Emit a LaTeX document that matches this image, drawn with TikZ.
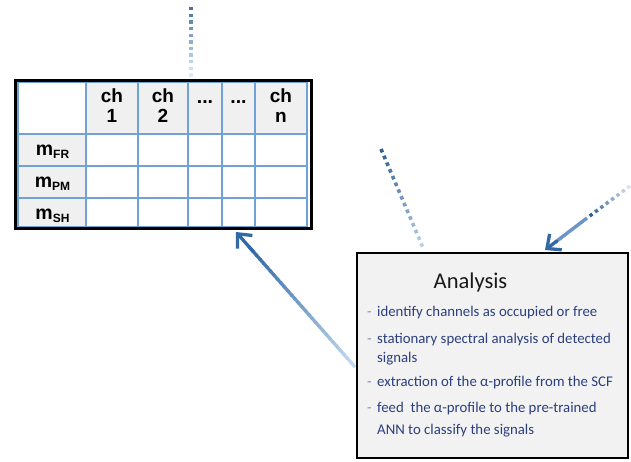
\documentclass[tikz,border=0pt]{standalone}
\usepackage{fontspec}
\setmainfont{Carlito}
\newfontfamily\tabfont{Liberation Sans}
\usetikzlibrary{arrows.meta,calc}
\definecolor{gridblue}{HTML}{6FA3D8}
\definecolor{cellgray}{HTML}{F0F0F0}
\definecolor{boxgray}{HTML}{F2F2F2}
\definecolor{txtblue}{HTML}{2B3F7F}
\definecolor{dashblue}{HTML}{7D8DB5}
\definecolor{arrdark}{HTML}{3169A6}
\definecolor{arrlight}{HTML}{C2DAF0}
\definecolor{dotdark}{HTML}{2F5F95}
\definecolor{dotlight}{HTML}{D0E2F4}
\newcommand\mydotline[6]{%
  \foreach \k in {0,...,#3}{%
    \pgfmathsetmacro\ta{\k/(#3+1)}%
    \pgfmathsetmacro\tb{(\k+0.5)/(#3+1)}%
    \pgfmathtruncatemacro\p{100*\k/#3}%
    \draw[line width=#6, color=#5!\p!#4] ($(#1)!\ta!(#2)$) -- ($(#1)!\tb!(#2)$);
  }}
\newcommand\mygradline[6]{%
  \foreach \k in {0,...,29}{%
    \pgfmathsetmacro\ta{\k/30*#3}%
    \pgfmathsetmacro\tb{(\k+1.4)/30*#3}%
    \pgfmathtruncatemacro\p{100*\k/29}%
    \draw[line width=#6, color=#5!\p!#4] ($(#1)!\ta!(#2)$) -- ($(#1)!\tb!(#2)$);
  }}
\tikzset{
  hdr/.style={font=\tabfont\bfseries\fontsize{19}{20}\selectfont, align=center, inner sep=0pt, text=black},
  rowlab/.style={font=\tabfont\bfseries\fontsize{19.5}{20}\selectfont, anchor=base, inner sep=0pt, text=black},
  bul/.style={font=\fontsize{14.8}{18}\selectfont, text=txtblue, anchor=base west, inner sep=0pt},
  dashmark/.style={font=\fontsize{14.8}{18}\selectfont, text=dashblue, anchor=base west, inner sep=0pt},
  gridline/.style={draw=gridblue, line width=1.3pt},
  tip/.style={-{Straight Barb[length=11pt,width=20pt]}, line width=3.3pt, line join=round, line cap=round}
}
\begin{document}
\begin{tikzpicture}[x=1pt,y=-1pt]
\useasboundingbox (0,0) rectangle (631,461);
% ---- table ----
\fill[cellgray] (86,82) rectangle (307,134);
\fill[cellgray] (18,134) rectangle (86,227);
\foreach \xx in {18,86,138,188,222,255,307}{\draw[gridline] (\xx,82) -- (\xx,227);}
\foreach \yy in {82,134,166,198,227}{\draw[gridline] (18,\yy) -- (307,\yy);}
\node[draw=black, line width=2.6pt, minimum width=296pt, minimum height=148pt, inner sep=0pt] (tbl) at (163.5,154.5) {};
\node[hdr] (h1) at (112,106) {ch\\1};
\node[hdr] (h2) at (163,106) {ch\\2};
\node[rowlab] (h3) at (205,103) {...};
\node[rowlab] (h4) at (238.5,103) {...};
\node[hdr] (h5) at (281,106) {ch\\n};
\node[rowlab] (r1) at (52.5,155) {m\raisebox{-3pt}{\fontsize{12}{12}\selectfont FR}};
\node[rowlab] (r2) at (52.5,187) {m\raisebox{-3pt}{\fontsize{12}{12}\selectfont PM}};
\node[rowlab] (r3) at (52.5,219) {m\raisebox{-3pt}{\fontsize{12}{12}\selectfont SH}};
% ---- analysis box ----
\node[draw=black, fill=boxgray, line width=2pt, minimum width=271pt, minimum height=205pt, inner sep=0pt] (ana) at (492.5,355.5) {};
\node[font=\fontsize{22.5}{24}\selectfont, text=black!90, inner sep=0pt] (title) at (470.5,282) {Analysis};
\node[dashmark] (d1) at (367,316) {-};
\node[bul] (b1) at (377,316) {identify channels as occupied or free};
\node[dashmark] (d2) at (367,343) {-};
\node[bul] (b2) at (377,343) {stationary spectral analysis of detected};
\node[bul] (b2b) at (377,362) {signals};
\node[dashmark] (d3) at (367,386) {-};
\node[bul] (b3) at (377,386) {extraction of the α-profile from the SCF};
\node[dashmark] (d4) at (367,412) {-};
\node[bul] (b4) at (377,412) {feed\ \ the α-profile to the pre-trained};
\node[bul] (b4b) at (377,434) {ANN to classify the signals};
% ---- connectors ----
\coordinate (a1s) at (355,367);
\coordinate (a1e) at (236,232);
\mygradline{a1s}{a1e}{0.88}{arrlight}{arrdark}{3.3pt}
\draw[tip, arrdark] ($(a1s)!0.86!(a1e)$) -- (a1e);
% top-right arrow
\coordinate (a2d) at (630,186);
\coordinate (a2m) at (587,218);
\coordinate (a2e) at (545,250);
\mydotline{a2d}{a2m}{7}{dotlight}{dotdark}{3.4pt}
\mygradline{a2m}{a2e}{0.75}{arrdark!60!arrlight}{arrdark}{3.3pt}
\draw[tip, arrdark] ($(a2m)!0.72!(a2e)$) -- (a2e);
% dotted lines
\coordinate (v1) at (191,7);
\coordinate (v2) at (191,80);
\mydotline{v1}{v2}{10}{dotdark!85!dotlight}{dotlight!70!white}{3.6pt}
\coordinate (w1) at (381,149);
\coordinate (w2) at (424,250);
\mydotline{w1}{w2}{14}{dotdark}{dotlight!85!arrdark}{3.6pt}
\end{tikzpicture}
\end{document}
